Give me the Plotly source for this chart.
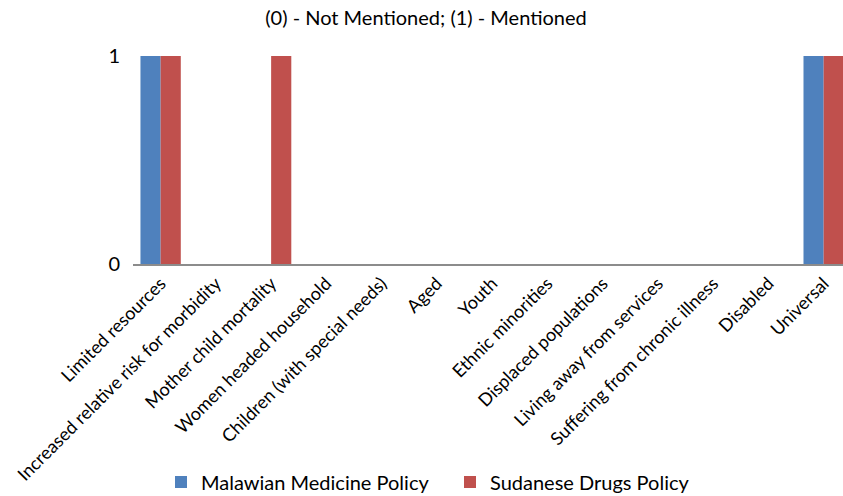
import plotly.graph_objects as go

categories = [
    "Limited resources",
    "Increased relative risk for morbidity",
    "Mother child mortality",
    "Women headed household",
    "Children (with special needs)",
    "Aged",
    "Youth",
    "Ethnic minorities",
    "Displaced populations",
    "Living away from services",
    "Suffering from chronic illness",
    "Disabled",
    "Universal",
]
malawian = [1, 0, 0, 0, 0, 0, 0, 0, 0, 0, 0, 0, 1]
sudanese = [1, 0, 1, 0, 0, 0, 0, 0, 0, 0, 0, 0, 1]
y_ticks = [0, 1]

FONT = "Lato, Open Sans, sans-serif"

fig = go.Figure()
fig.add_trace(go.Bar(name="Malawian Medicine Policy", x=categories, y=malawian,
                     marker=dict(color="#4F81BD", line=dict(width=0))))
fig.add_trace(go.Bar(name="Sudanese Drugs Policy", x=categories, y=sudanese,
                     marker=dict(color="#C0504D", line=dict(width=0))))

fig.update_layout(
    width=843, height=496,
    barmode="group", bargap=0.27, bargroupgap=0,
    plot_bgcolor="white", paper_bgcolor="white",
    margin=dict(l=133, r=0, t=56, b=232),
    font=dict(family=FONT, size=18, color="#000000"),
    title=dict(text="(0) - Not Mentioned; (1) - Mentioned", x=426 / 843,
               xanchor="center", xref="container",
               y=1 - 18 / 496, yanchor="middle", yref="container",
               font=dict(family=FONT, size=20, color="#000000")),
    legend=dict(orientation="h", x=(172 - 11) / 843, xanchor="left", xref="container",
                y=1 - 482 / 496, yanchor="middle", yref="container",
                font=dict(family=FONT, size=20), itemwidth=30,
                entrywidth=244, entrywidthmode="pixels",
                traceorder="normal"),
    showlegend=True,
)
fig.update_xaxes(
    range=[-0.5, 12.35], tickangle=-45, showline=True, linecolor="#8c8c8c",
    linewidth=2, showgrid=False, ticks="", tickfont=dict(family=FONT, size=18),
    automargin=False,
)
fig.update_yaxes(
    range=[0, 1], tickvals=y_ticks, ticktext=[str(v) for v in y_ticks],
    showgrid=True, gridcolor="#c5cfe8", gridwidth=1, zeroline=False,
    showline=False, ticks="", ticklabelstandoff=12,
    tickfont=dict(family=FONT, size=20), automargin=False,
)

fig.write_html("out.html")
